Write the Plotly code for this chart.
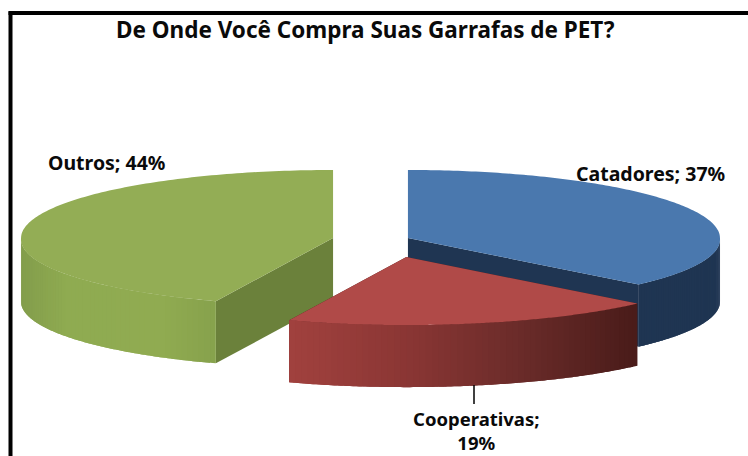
import numpy as np
import plotly.graph_objects as go

categories = ["Catadores", "Cooperativas", "Outros"]
values = [37, 19, 44]
title_text = "De Onde Você Compra Suas Garrafas de PET?"

top_colors = ["#4a78ae", "#b04a48", "#93ad55"]
cut_colors = ["#1f3552", "#4a1c1a", "#6b813b"]
wall_ramps = [
    ["#1f3552", "#1f3552"],
    ["#a2423f", "#8c3735", "#6b2c2a", "#4a1c1a"],
    ["#839d4c", "#8fab51", "#90ab51", "#90ab51", "#87a34d"],
]
explode = [(0.12, 0.0), (0.115, -0.061), (-0.12, 0.0)]
TILT = 0.218
DEPTH = 0.199
PERSPECTIVE = 0.022
W, H = 748, 456
UNIT = 312
CX, CY = 370.5, 238


def hex2rgb(c):
    return np.array([int(c[i:i + 2], 16) for i in (1, 3, 5)], float)


def ramp(stops, t):
    p = t * (len(stops) - 1)
    i = min(int(p), len(stops) - 2)
    c = hex2rgb(stops[i]) * (1 - (p - i)) + hex2rgb(stops[i + 1]) * (p - i)
    return "rgb(%d,%d,%d)" % tuple(c)


def rim(a, ox, oy, drop=0.0):
    grow = 1 + PERSPECTIVE * np.maximum(-np.cos(a), 0)
    return ox + np.sin(a) * grow, oy + TILT * np.cos(a) - drop


def poly(fig, xs, ys, color):
    fig.add_trace(go.Scatter(
        x=list(xs), y=list(ys), mode="none", fill="toself", fillcolor=color,
        hoverinfo="skip", showlegend=False,
    ))


fig = go.Figure()
edges = np.radians(np.concatenate([[0], np.cumsum(values)]) * 3.6)
order = [0, 2, 1]
for k in order:
    a0, a1 = edges[k], edges[k + 1]
    ox, oy = explode[k]
    # walls cut faces
    for a in (a0, a1):
        rx, ry = rim(a, ox, oy)
        poly(fig, [ox, rx, rx, ox], [oy, ry, ry - DEPTH, oy - DEPTH], cut_colors[k])
    # outer wall (front half only), painted with each band overlapping the next
    lo, hi = max(a0, np.pi / 2), min(a1, 3 * np.pi / 2)
    steps = np.linspace(lo, hi, 61)
    for i in range(len(steps) - 1):
        seg = np.linspace(steps[i], steps[min(i + 2, len(steps) - 1)], 5)
        x1, y1 = rim(seg, ox, oy)
        x2, y2 = rim(seg[::-1], ox, oy, DEPTH)
        t = (np.sin(steps[i]) - np.sin(hi)) / (np.sin(lo) - np.sin(hi))
        poly(fig, np.r_[x1, x2], np.r_[y1, y2], ramp(wall_ramps[k], t))
    # top surface
    arc = np.linspace(a0, a1, 160)
    x, y = rim(arc, ox, oy)
    poly(fig, np.r_[ox, x, ox], np.r_[oy, y, oy], top_colors[k])

black = dict(color="#000000", width=4)
font = "Noto Sans"
shapes = [
    dict(type="line", xref="paper", yref="paper", x0=10.5 / W, x1=10.5 / W, y0=0, y1=1 - 11.5 / H, line=black),
    dict(type="line", xref="paper", yref="paper", x0=8.5 / W, x1=1, y0=1 - 13 / H, y1=1 - 13 / H, line=black),
    dict(type="line", xref="paper", yref="paper", x0=474 / W, x1=474 / W, y0=1 - 385 / H, y1=1 - 404 / H,
         line=dict(color="#000000", width=1.5)),
]


def label(text, px, py, size):
    return dict(text=text, xref="paper", yref="paper", x=px / W, y=1 - py / H, showarrow=False,
                borderpad=0, xanchor="center", yanchor="middle",
                font=dict(family=font, size=size, color="#0a0a0a"))


labels = [f"{c}; {v}%" for c, v in zip(categories, values)]
annotations = [
    label("<b>" + title_text + "</b>", 365.5, 29.5, 22.5),
    label("<b>" + labels[2] + "</b>", 107, 162, 19.5),
    label("<b>" + labels[0] + "</b>", 650, 173, 19.5),
    label(f"<b>{categories[1]};<br>{values[1]}%</b>", 476.5, 430.5, 18.5),
]

fig.update_layout(
    width=W, height=H, margin=dict(l=0, r=0, t=0, b=0),
    paper_bgcolor="white", plot_bgcolor="white", showlegend=False,
    xaxis=dict(range=[-CX / UNIT, (W - CX) / UNIT], visible=False, fixedrange=True),
    yaxis=dict(range=[(CY - H) / UNIT, CY / UNIT], visible=False, fixedrange=True),
    shapes=shapes, annotations=annotations,
)
fig.write_html("out.html", config=dict(displayModeBar=False),
               post_script="document.documentElement.style.margin='0';document.body.style.margin='0';document.body.style.overflow='hidden';")
